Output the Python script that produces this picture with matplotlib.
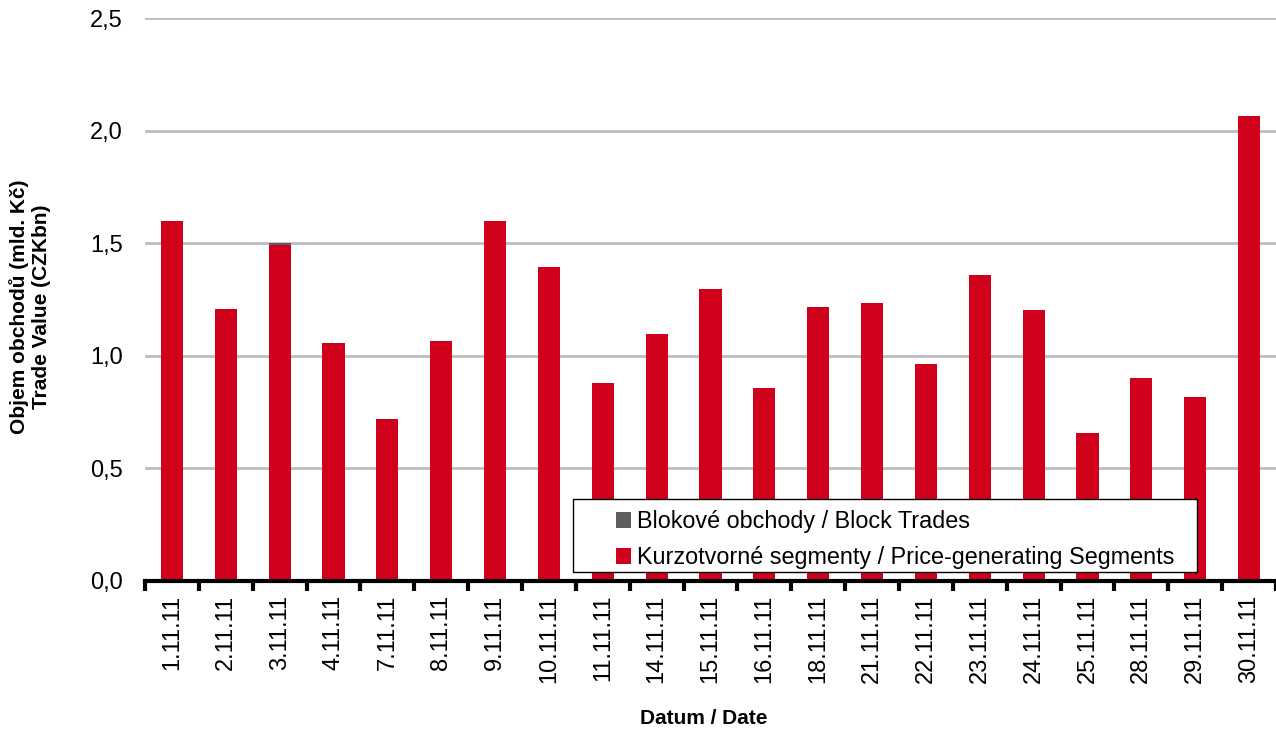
import matplotlib
matplotlib.use("Agg")
import matplotlib.pyplot as plt
from matplotlib.patches import Rectangle
import numpy as np

plt.rcParams['font.family'] = ['Liberation Sans', 'DejaVu Sans']

dates = ["1.11.11", "2.11.11", "3.11.11", "4.11.11", "7.11.11", "8.11.11", "9.11.11",
         "10.11.11", "11.11.11", "14.11.11", "15.11.11", "16.11.11", "18.11.11", "21.11.11",
         "22.11.11", "23.11.11", "24.11.11", "25.11.11", "28.11.11", "29.11.11", "30.11.11"]
price_generating = [1.60, 1.21, 1.49, 1.055, 0.72, 1.067, 1.60,
                    1.395, 0.88, 1.098, 1.298, 0.855, 1.218, 1.235,
                    0.965, 1.36, 1.205, 0.658, 0.902, 0.818, 2.065]
block_trades = [0.0, 0.0, 0.012, 0.0, 0.0, 0.0, 0.0,
                0.0, 0.0, 0.0, 0.0, 0.0, 0.0, 0.0,
                0.0, 0.0, 0.0, 0.0, 0.0, 0.0, 0.0]
yticks = [0.0, 0.5, 1.0, 1.5, 2.0, 2.5]
ytick_labels = ["0,0", "0,5", "1,0", "1,5", "2,0", "2,5"]

red = "#D0021B"
grey = "#5F5F5F"

W, H = 1276, 737
fig = plt.figure(figsize=(W/100, H/100), dpi=100)
ax_l, ax_r, ax_b, ax_t = 145, 1276, 581, 18
ax = fig.add_axes([ax_l/W, 1-ax_b/H, (ax_r-ax_l)/W, (ax_b-ax_t)/H])
aw, ah = ax_r - ax_l, ax_b - ax_t

x = np.arange(len(dates))
b2 = ax.bar(x, price_generating, width=0.41, color=red, zorder=3,
            label="Kurzotvorné segmenty / Price-generating Segments")
b1 = ax.bar(x, block_trades, width=0.41, bottom=price_generating, color=grey, zorder=3,
            label="Blokové obchody / Block Trades")

ax.set_xlim(-0.5, len(dates) - 0.5)
ax.set_ylim(0, 2.5)
ax.set_yticks(yticks)
ax.set_yticklabels(ytick_labels, fontsize=17)
ax.yaxis.grid(True, color="#BDBDBD", linewidth=2, zorder=0)
ax.set_axisbelow(True)
ax.tick_params(axis='y', length=0, pad=16)

ax.set_xticks(np.arange(len(dates) + 1) - 0.5, minor=False)
ax.set_xticklabels([])
ax.set_xticks(x, minor=True)
ax.set_xticklabels(dates, minor=True, rotation=90, fontsize=17)
ax.tick_params(axis='x', which='major', length=7, width=3, color='black', direction='out')
ax.tick_params(axis='x', which='minor', length=0, pad=10)

for s in ['top', 'right', 'left']:
    ax.spines[s].set_visible(False)
ax.spines['bottom'].set_linewidth(3)
ax.spines['bottom'].set_zorder(4)

fig.text(30/W, 1-307/H, "Objem obchodů (mld. Kč)\nTrade Value (CZKbn)", fontsize=15,
         fontweight='bold', rotation=90, ha='center', va='center', linespacing=1.15,
         multialignment='center')
fig.text(704/W, 1-718/H, "Datum / Date", fontsize=15, fontweight='bold',
         ha='center', va='center')

# legend frame
lx0, lx1, ly0, ly1 = 573, 1197, 572, 499
frame = Rectangle(((lx0-ax_l)/aw, (ax_b-ly0)/ah), (lx1-lx0)/aw, (ly0-ly1)/ah,
                  transform=ax.transAxes, facecolor='white', edgecolor='black',
                  linewidth=1, zorder=5, clip_on=False)
ax.add_patch(frame)
leg = ax.legend(handles=[b1, b2], loc='upper left',
                bbox_to_anchor=((616-ax_l)/aw, (ax_b-510)/ah),
                fontsize=16.8, frameon=False, handlelength=0.64, handleheight=0.64,
                handletextpad=0.25, borderpad=0, labelspacing=0.56, borderaxespad=0)
leg.set_zorder(6)

fig.savefig("out.png", dpi=100)
